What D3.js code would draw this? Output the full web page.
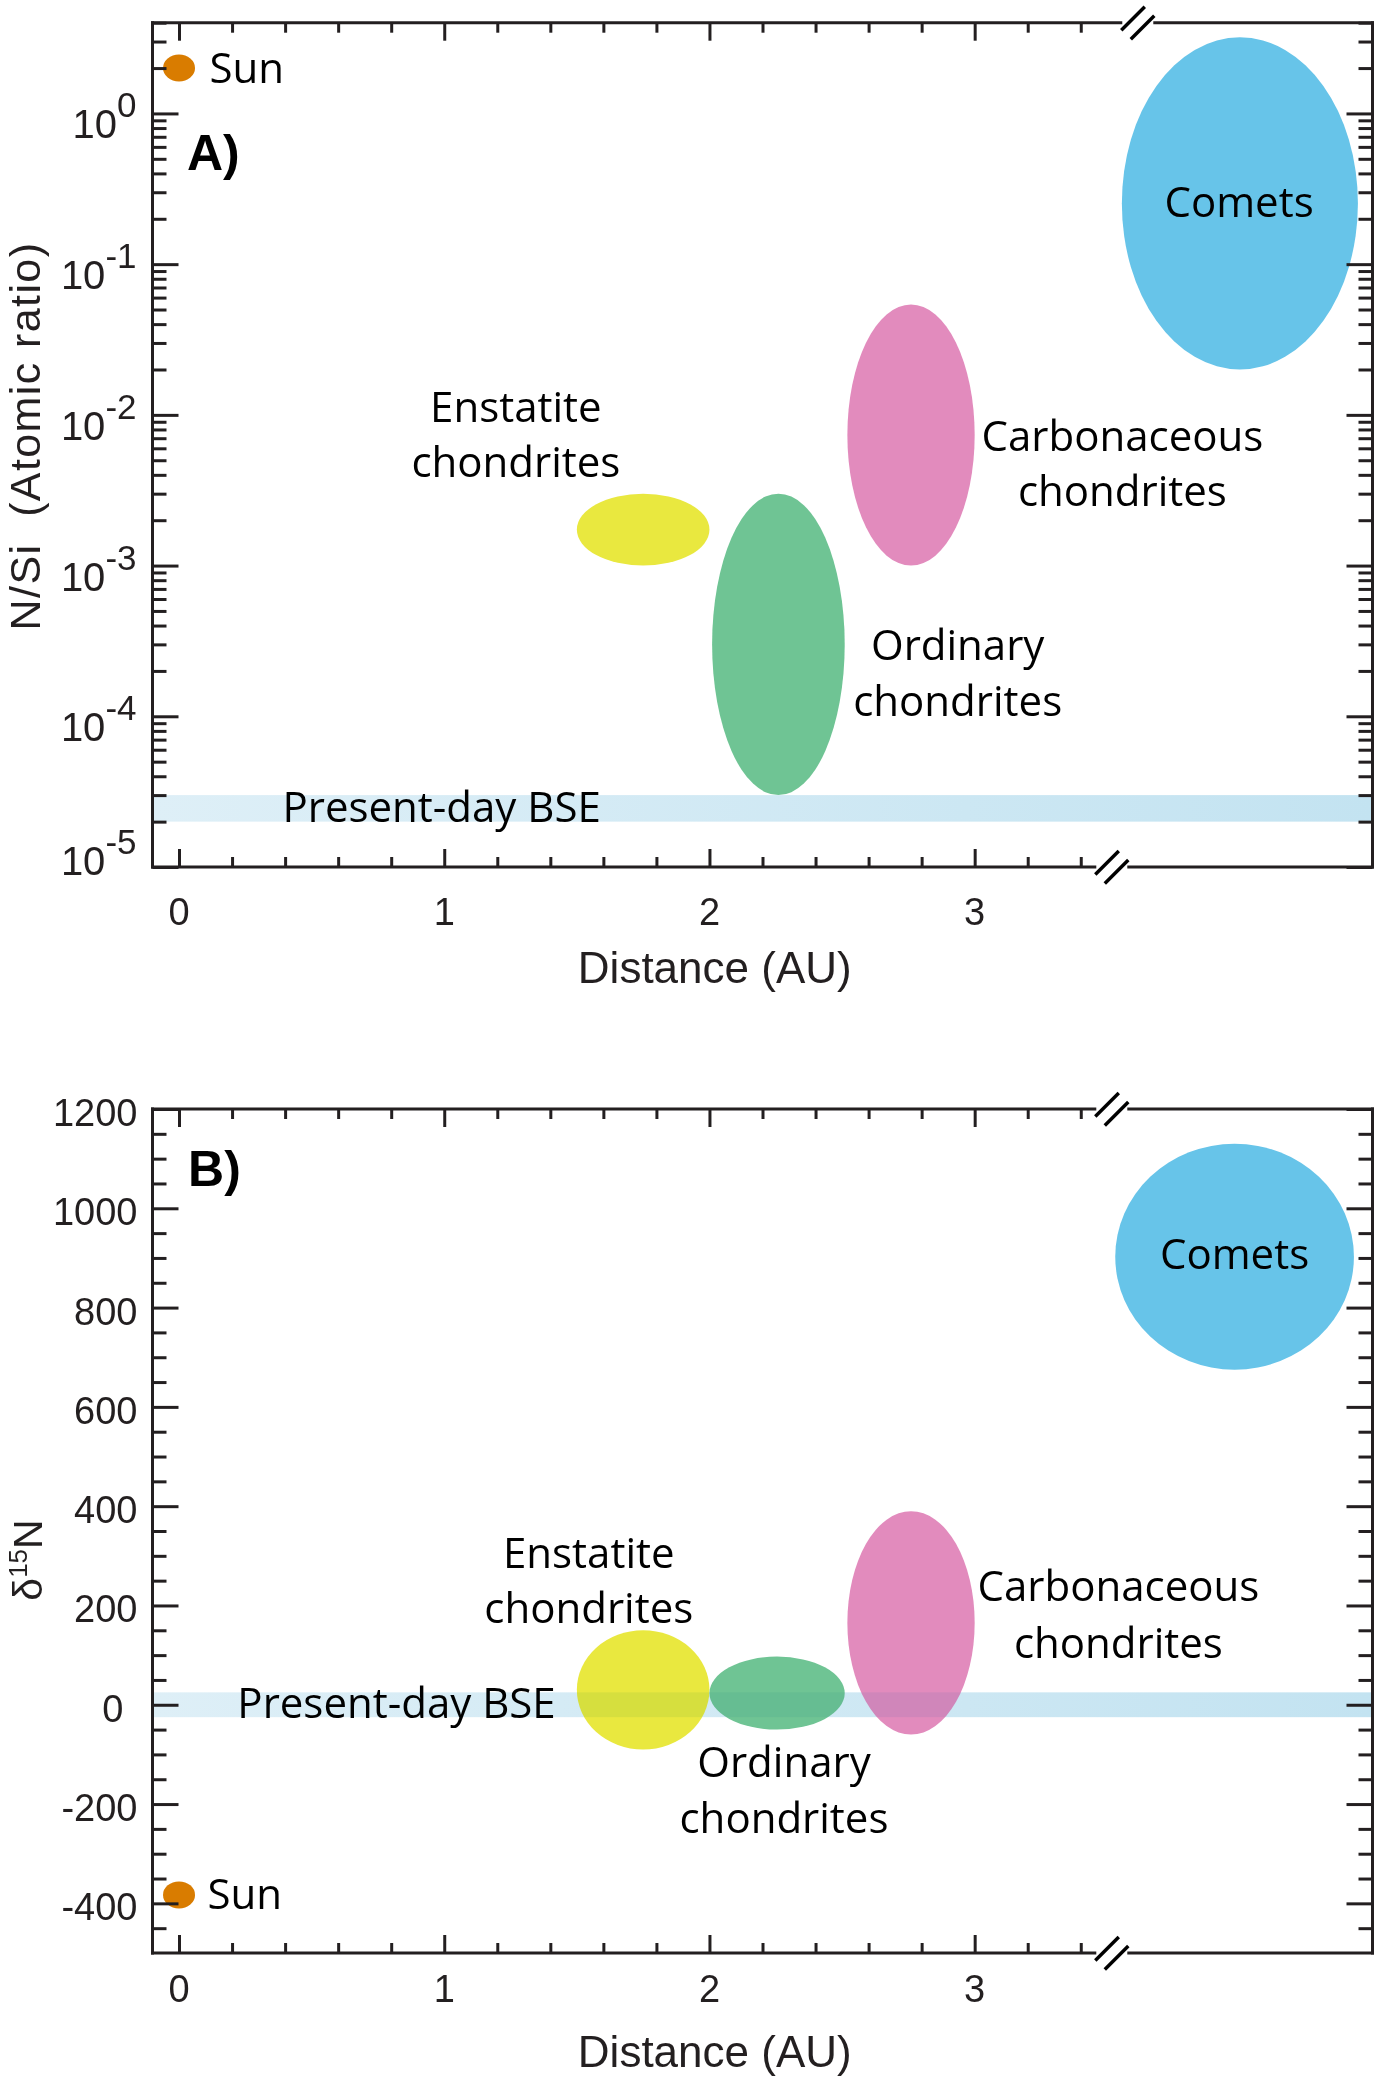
<!DOCTYPE html>
<html><head><meta charset="utf-8">
<script src="https://cdn.jsdelivr.net/npm/d3@7"></script>
<style>body{margin:0;background:#fff}svg{display:block}</style>
</head><body>
<svg id="chart" width="1380" height="2079"></svg>
<script>
// ================= DATA =================
const groupNames   = ["Enstatite chondrites","Ordinary chondrites","Carbonaceous chondrites","Comets"];
// Panel A : N/Si (atomic ratio) vs distance (AU)
const distLoA = [1.50, 2.01, 2.52, 3.555];
const distHiA = [2.00, 2.51, 3.00, 4.445];
const nsiLo   = [1.0e-3, 3.0e-5, 1.0e-3, 2.0e-2];
const nsiHi   = [3.0e-3, 3.0e-3, 5.4e-2, 3.2];
// Panel B : delta15N vs distance (AU)
const distLoB = [1.50, 2.00, 2.52, 3.53];
const distHiB = [2.00, 2.51, 3.00, 4.43];
const d15nLo  = [-90, -50, -60, 675];
const d15nHi  = [150, 97, 390, 1130];
// Present-day bulk silicate Earth bands
const bseNSi  = [2.0e-5, 3.0e-5];
const bseD15N = [-25, 25];
// Sun
const sunDist = 0, sunNSi = 2.0, sunD15N = -383;

// ticks
const xMajorTicks = [0, 1, 2, 3];
const xTickLabels = ["0", "1", "2", "3"];
const xMinorTicks = [0.2,0.4,0.6,0.8,1.2,1.4,1.6,1.8,2.2,2.4,2.6,2.8,3.2,3.4];
const yAMajor = [1e-5, 1e-4, 1e-3, 1e-2, 1e-1, 1];
const yAExpLabels = ["-5", "-4", "-3", "-2", "-1", "0"];
const yBMajor = [-400, -200, 0, 200, 400, 600, 800, 1000, 1200];
const yBLabels = ["-400", "-200", "0", "200", "400", "600", "800", "1000", "1200"];
const yBMinor = [-450,-350,-300,-250,-150,-100,-50,50,100,150,250,300,350,450,500,550,650,700,750,850,900,950,1050,1100,1150];

// annotation anchor points (data units)
const labA = {
  ens:  {x: 1.27,  y: [9.0e-3, 3.87e-3]},
  ord:  {x: 2.936, y: [2.36e-4, 1.0e-4]},
  carb: {x: 3.557, y: [5.8e-3, 2.49e-3]},
  com:  {x: 3.997, y: [0.2066]},
  sun:  {x: 0.115, y: 1.594},
  bse:  {x: 0.39,  y: 2.0e-5},
  panel:{x: 0.03,  y: 0.42}
};
const labB = {
  ens:  {x: 1.545, y: [276, 164]},
  ord:  {x: 2.281, y: [-145, -258]},
  carb: {x: 3.542, y: [208, 95]},
  com:  {x: 3.98,  y: [877]},
  sun:  {x: 0.107, y: -411},
  bse:  {x: 0.22,  y: -27},
  panel:{x: 0.034, y: 1044}
};
const breakA = {top: 3.615, bottom: 3.517};
const breakB = {top: 3.517, bottom: 3.517};

// ================= STYLE =================
const fills = ["#e9e83f", "#6fc494", "#e28bbd", "#67c4e9"];
const sunColor = "#d97c00";
const axisColor = "#231f20";
const annFont = "'Open Sans', 'Noto Sans', sans-serif";
const tickFont = "'Liberation Sans', Arial, Helvetica, sans-serif";

const svg = d3.select("#chart");
const defs = svg.append("defs");
const grad = defs.append("linearGradient").attr("id","bandGrad").attr("x1","0").attr("x2","1").attr("y1","0").attr("y2","0");
grad.append("stop").attr("offset","0").attr("stop-color","#deeff7");
grad.append("stop").attr("offset","1").attr("stop-color","#c3e3f1");

// ================= SCALES =================
const x = d3.scaleLinear().domain([-0.1, 4.5]).range([152.5, 1372.5]);
const yA = d3.scaleLog().domain([1e-5, 4]).range([867, 22.7]);
const yB = d3.scaleLinear().domain([-500, 1200]).range([1953, 1109]);

// ================= HELPERS =================
function drawPanel(id, y, bandVals, lo, hi, ylo, yhi, sunY) {
  const g = svg.append("g").attr("id", id);
  const [x0, x1] = x.range();
  const [yb, yt] = y.range();
  g.append("rect").attr("x", x0).attr("width", x1 - x0)
    .attr("y", y(bandVals[1])).attr("height", y(bandVals[0]) - y(bandVals[1]))
    .attr("fill", "url(#bandGrad)");
  const data = groupNames.map((n, i) => ({n, i,
    cx: (x(lo[i]) + x(hi[i])) / 2, rx: Math.abs(x(hi[i]) - x(lo[i])) / 2,
    cy: (y(ylo[i]) + y(yhi[i])) / 2, ry: Math.abs(y(yhi[i]) - y(ylo[i])) / 2}));
  g.selectAll("ellipse.grp").data(data).join("ellipse").attr("class","grp")
    .attr("cx", d => d.cx).attr("cy", d => d.cy).attr("rx", d => d.rx).attr("ry", d => d.ry)
    .attr("fill", d => fills[d.i]);
  const clip = defs.append("clipPath").attr("id", id + "clip");
  clip.selectAll("ellipse").data(data).join("ellipse")
    .attr("cx", d => d.cx).attr("cy", d => d.cy).attr("rx", d => d.rx).attr("ry", d => d.ry);
  g.append("rect").attr("x", x0).attr("width", x1 - x0)
    .attr("y", y(bandVals[1])).attr("height", y(bandVals[0]) - y(bandVals[1]))
    .attr("fill", "#c5e4f2").attr("opacity", 0.35)
    .style("mix-blend-mode", "multiply").attr("clip-path", `url(#${id}clip)`);
  g.append("ellipse").attr("cx", x(sunDist)).attr("cy", y(sunY)).attr("rx", 16).attr("ry", 13.5).attr("fill", sunColor);

  const tk = (sel) => sel.call(s => s.select(".domain").remove())
      .selectAll(".tick line").attr("stroke", axisColor).attr("stroke-width", 3);
  const gx = g.append("g");
  gx.append("g").attr("transform", `translate(0,${yb})`).call(d3.axisBottom(x).tickValues(xMajorTicks).tickSize(-18).tickFormat("")).call(tk);
  gx.append("g").attr("transform", `translate(0,${yb})`).call(d3.axisBottom(x).tickValues(xMinorTicks).tickSize(-10).tickFormat("")).call(tk);
  gx.append("g").attr("transform", `translate(0,${yt})`).call(d3.axisTop(x).tickValues(xMajorTicks).tickSize(-18).tickFormat("")).call(tk);
  gx.append("g").attr("transform", `translate(0,${yt})`).call(d3.axisTop(x).tickValues(xMinorTicks).tickSize(-10).tickFormat("")).call(tk);
  return {g, data, x0, x1, yb, yt};
}

function frame(p, brk) {
  const {g, x0, x1, yb, yt} = p;
  const gap = 17;
  const bt = x(brk.top), bb = x(brk.bottom);
  const segs = [
    [x0, yt, x0, yb], [x1, yt, x1, yb],
    [x0, yt, bt - gap, yt], [bt + gap, yt, x1, yt],
    [x0, yb, bb - gap, yb], [bb + gap, yb, x1, yb]
  ];
  g.selectAll("line.frame").data(segs).join("line").attr("class","frame")
    .attr("x1", d => d[0]).attr("y1", d => d[1]).attr("x2", d => d[2]).attr("y2", d => d[3])
    .attr("stroke", axisColor).attr("stroke-width", 3).attr("stroke-linecap", "square");
  const marks = [];
  [[bt, yt], [bb, yb]].forEach(([cx, cy]) => {
    marks.push([cx - 16.5, cy + 7.5, cx + 7, cy - 16]);
    marks.push([cx - 7, cy + 16.5, cx + 16.5, cy - 7]);
  });
  g.selectAll("line.brk").data(marks).join("line").attr("class","brk")
    .attr("x1", d => d[0]).attr("y1", d => d[1]).attr("x2", d => d[2]).attr("y2", d => d[3])
    .attr("stroke", "#000").attr("stroke-width", 3.5);
}

function yTicks(p, y, major, minor) {
  const {g, x0, x1} = p;
  const tk = (sel) => sel.call(s => s.select(".domain").remove())
      .selectAll(".tick line").attr("stroke", axisColor).attr("stroke-width", 3);
  g.append("g").attr("transform", `translate(${x0},0)`).call(d3.axisLeft(y).tickValues(major).tickSize(-26).tickFormat("")).call(tk);
  g.append("g").attr("transform", `translate(${x0},0)`).call(d3.axisLeft(y).tickValues(minor).tickSize(-14).tickFormat("")).call(tk);
  g.append("g").attr("transform", `translate(${x1},0)`).call(d3.axisRight(y).tickValues(major).tickSize(-26).tickFormat("")).call(tk);
  g.append("g").attr("transform", `translate(${x1},0)`).call(d3.axisRight(y).tickValues(minor).tickSize(-14).tickFormat("")).call(tk);
}

function xLabels(p, baselineOffset, titleY) {
  const {g, yb} = p;
  g.selectAll("text.xt").data(xMajorTicks).join("text").attr("class","xt")
    .attr("x", d => x(d)).attr("y", yb + baselineOffset)
    .attr("text-anchor", "middle").attr("font-family", tickFont).attr("font-size", 38)
    .attr("fill", axisColor).text((d, i) => xTickLabels[i]);
  g.append("text").attr("x", x(2.02)).attr("y", titleY)
    .attr("text-anchor", "middle").attr("font-family", tickFont).attr("font-size", 44)
    .attr("fill", axisColor).text("Distance (AU)");
}

function annotate(p, y, lab) {
  const {g} = p;
  const multi = (pos, lines) => {
    lines.forEach((t, i) => g.append("text").attr("x", x(pos.x)).attr("y", y(pos.y[i]))
      .attr("text-anchor", "middle").attr("font-family", annFont).attr("font-size", 42)
      .attr("fill", "#000").text(t));
  };
  multi(lab.ens, ["Enstatite", "chondrites"]);
  multi(lab.ord, ["Ordinary", "chondrites"]);
  multi(lab.carb, ["Carbonaceous", "chondrites"]);
  multi(lab.com, ["Comets"]);
  g.append("text").attr("x", x(lab.sun.x)).attr("y", y(lab.sun.y)).attr("font-family", annFont)
    .attr("font-size", 42).attr("fill", "#000").text("Sun");
  g.append("text").attr("x", x(lab.bse.x)).attr("y", y(lab.bse.y)).attr("font-family", annFont)
    .attr("font-size", 42).attr("fill", "#000").text("Present-day BSE");
}

// ================= PANEL A =================
const pA = drawPanel("A", yA, bseNSi, distLoA, distHiA, nsiLo, nsiHi, sunNSi);
const minorA = yA.ticks().filter(v => !yAMajor.some(m => Math.abs(m - v) / m < 1e-6));
yTicks(pA, yA, yAMajor, minorA);
frame(pA, breakA);
yAMajor.forEach((v, i) => {
  const lift = (i === 0) ? 17 : 0;
  const t = pA.g.append("text").attr("x", pA.x0 - 16).attr("y", yA(v) + 25 - lift)
    .attr("text-anchor", "end").attr("font-family", tickFont).attr("fill", axisColor);
  t.append("tspan").attr("font-size", 40).text("10");
  t.append("tspan").attr("font-size", 35).attr("dy", -21).text(yAExpLabels[i]);
});
xLabels(pA, 58, 983);
annotate(pA, yA, labA);
pA.g.append("text").attr("x", x(labA.panel.x)).attr("y", yA(labA.panel.y)).attr("font-family", tickFont)
  .attr("font-weight", "bold").attr("font-size", 50).attr("fill", "#000").text("A)");
pA.g.append("text").attr("transform", "translate(40,436) rotate(-90)").attr("text-anchor", "middle")
  .attr("font-family", tickFont).attr("font-size", 43).attr("letter-spacing", 1.4).attr("fill", axisColor)
  .style("white-space", "pre").text("N/Si  (Atomic ratio)");

// ================= PANEL B =================
const pB = drawPanel("B", yB, bseD15N, distLoB, distHiB, d15nLo, d15nHi, sunD15N);
yTicks(pB, yB, yBMajor, yBMinor);
frame(pB, breakB);
yBMajor.forEach((v, i) => {
  pB.g.append("text").attr("x", pB.x0 - 15 - (v === 0 ? 14 : 0)).attr("y", yB(v) + 17)
    .attr("text-anchor", "end").attr("font-family", tickFont).attr("font-size", 38)
    .attr("fill", axisColor).text(yBLabels[i]);
});
xLabels(pB, 49, 2067);
annotate(pB, yB, labB);
pB.g.append("text").attr("x", x(labB.panel.x)).attr("y", yB(labB.panel.y)).attr("font-family", tickFont)
  .attr("font-weight", "bold").attr("font-size", 50).attr("fill", "#000").text("B)");
const tB = pB.g.append("text").attr("transform", "translate(42,1560) rotate(-90)").attr("text-anchor", "middle")
  .attr("font-family", tickFont).attr("font-size", 41).attr("fill", axisColor);
tB.append("tspan").text("δ");
tB.append("tspan").attr("font-size", 26).attr("dy", -15).text("15");
tB.append("tspan").attr("dy", 15).text("N");
</script>
</body></html>
